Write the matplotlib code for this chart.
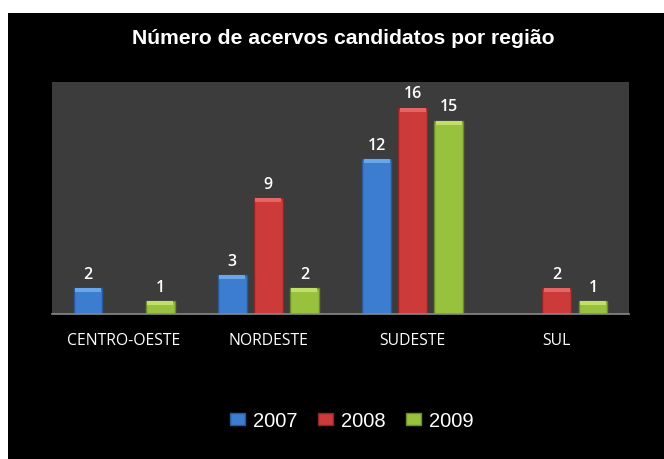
import numpy as np
import matplotlib.pyplot as plt
from matplotlib.patches import Patch

regions = ["CENTRO-OESTE", "NORDESTE", "SUDESTE", "SUL"]
years = ["2007", "2008", "2009"]
v2007 = [2, 3, 12, None]
v2008 = [None, 9, 16, 2]
v2009 = [1, 2, 15, 1]

colors = ["#3d7dd0", "#cc3a3a", "#98c23e"]
light = ["#6aa6ea", "#e56464", "#c0e068"]
dark = ["#285a9a", "#8e2626", "#6d8c28"]

fig = plt.figure(figsize=(6.64, 4.6), dpi=100)
fig.patch.set_facecolor("white")

# black card behind the chart
bg = fig.add_axes([8 / 664, 0, 1 - 8 / 664, 1 - 14 / 460], zorder=-1)
bg.set_facecolor("black")
bg.set_xticks([])
bg.set_yticks([])
for s in bg.spines.values():
    s.set_visible(False)

ax = fig.add_axes([52 / 664, 1 - 315 / 460, 577 / 664, 232 / 460])
ax.set_facecolor("#3c3c3c")

x = np.arange(len(regions))
w = 0.2
step = 0.25
for k, vals in enumerate([v2007, v2008, v2009]):
    xs = [xi + (k - 1) * step for xi, v in zip(x, vals) if v is not None]
    hs = [v for v in vals if v is not None]
    ax.bar(xs, hs, width=w, color=colors[k], edgecolor=dark[k], linewidth=1.0, zorder=2)
    # light top cap for the bevel look
    ax.bar(xs, [0.3] * len(hs), bottom=[h - 0.3 for h in hs], width=w * 0.9,
           color=light[k], edgecolor="none", zorder=3)
    for xi, h in zip(xs, hs):
        ax.text(xi, h + 0.5, str(h), ha="center", va="bottom", color="white",
                fontsize=11.5, fontweight="semibold", family="Open Sans", zorder=4)

ax.set_xlim(-0.5, 3.5)
ax.set_ylim(0, 18)
ax.set_yticks([])
ax.set_xticks(x)
ax.set_xticklabels(regions, color="white", fontsize=11.3, family="Open Sans")
ax.tick_params(axis="x", length=0, pad=13)
for s in ["top", "left", "right"]:
    ax.spines[s].set_visible(False)
ax.spines["bottom"].set_color("#8a8a8a")
ax.spines["bottom"].set_linewidth(1.2)

fig.text(0.517, 1 - 39 / 460, "Número de acervos candidatos por região", ha="center", va="center",
         color="white", fontsize=15.2, fontweight="bold", family="Liberation Sans")

handles = [Patch(facecolor=colors[k], edgecolor=dark[k]) for k in range(3)]
fig.legend(handles, years, loc="center", bbox_to_anchor=(352 / 664, 1 - 422 / 460), ncol=3,
           frameon=False, labelcolor="white", prop={"family": "Liberation Sans", "size": 14.5},
           handlelength=0.75, handleheight=0.55, handletextpad=0.4, columnspacing=1.0)

fig.savefig("out.png", dpi=100, facecolor=fig.get_facecolor())
